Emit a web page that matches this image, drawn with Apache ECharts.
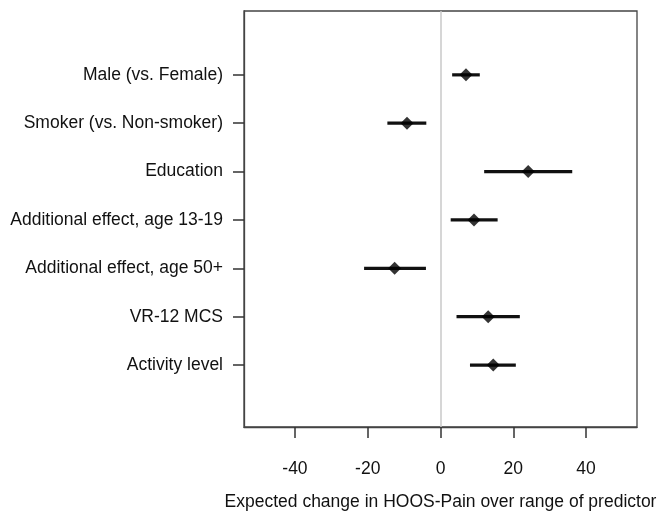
<!DOCTYPE html>
<html>
<head>
<meta charset="utf-8">
<script src="https://cdn.jsdelivr.net/npm/echarts@6/dist/echarts.min.js"></script>
<style>html,body{margin:0;padding:0;background:#fff;}#c{width:659px;height:512px;}</style>
</head>
<body>
<div id="c"></div>
<script>
const categories = ["Male (vs. Female)", "Smoker (vs. Non-smoker)", "Education", "Additional effect, age 13-19", "Additional effect, age 50+", "VR-12 MCS", "Activity level"];
const estimates = [7.0, -9.2, 24.1, 9.2, -12.6, 13.1, 14.5];
const lower = [3.2, -14.6, 12.0, 2.8, -21.0, 4.4, 8.1];
const upper = [10.8, -3.9, 36.2, 15.7, -4.0, 21.8, 20.7];
const xTicks = [-40, -20, 0, 20, 40];
const xTitle = "Expected change in HOOS-Pain over range of predictor";

const positions = categories.map((c, i) => i + 1);
const font = "'Liberation Sans', Arial, Helvetica, sans-serif";

const chart = echarts.init(document.getElementById('c'));
chart.setOption({
  animation: false,
  backgroundColor: '#fff',
  grid: { left: 244, right: 22, top: 11, bottom: 85, containLabel: false, outerBoundsMode: 'none',
    show: true, borderColor: '#444', borderWidth: 1.3, backgroundColor: 'transparent' },
  xAxis: {
    type: 'value', min: -54, max: 54,
    name: xTitle, nameLocation: 'middle', nameGap: 66,
    nameTextStyle: { fontSize: 17.5, color: '#111', fontFamily: font },
    axisLine: { show: true, onZero: false, lineStyle: { color: '#444', width: 1.3 } },
    axisTick: { show: true, length: 11, customValues: xTicks, lineStyle: { color: '#333', width: 1.5 } },
    axisLabel: { customValues: xTicks, margin: 33, fontSize: 17.5, color: '#111', fontFamily: font },
    splitLine: { show: false }
  },
  yAxis: {
    type: 'value', min: -0.32, max: 8.28, inverse: true,
    axisLine: { show: true, onZero: false, lineStyle: { color: '#444', width: 1.3 } },
    axisTick: { show: true, length: 11, customValues: positions, lineStyle: { color: '#333', width: 1.5 } },
    axisLabel: { customValues: positions, margin: 21, fontSize: 17.5, color: '#111', fontFamily: font,
      formatter: v => categories[Math.round(v) - 1] || '' },
    splitLine: { show: false }
  },
  series: [
    {
      type: 'custom',
      data: categories.map((c, i) => [lower[i], upper[i], positions[i]]),
      encode: { x: [0, 1], y: 2 },
      renderItem: (params, api) => {
        const p1 = api.coord([api.value(0), api.value(2)]);
        const p2 = api.coord([api.value(1), api.value(2)]);
        return { type: 'line', shape: { x1: p1[0], y1: p1[1], x2: p2[0], y2: p2[1] }, style: { stroke: '#111', lineWidth: 3.2 } };
      },
      z: 3
    },
    {
      type: 'scatter',
      data: categories.map((c, i) => [estimates[i], positions[i]]),
      symbol: 'diamond', symbolSize: [13, 13],
      itemStyle: { color: '#000' },
      z: 4,
      markLine: {
        silent: true, symbol: ['none', 'none'], label: { show: false },
        lineStyle: { color: '#c8c8c8', width: 1.5, type: 'solid' },
        data: [{ xAxis: 0 }],
        z: 1
      }
    }
  ]
});
</script>
</body>
</html>
